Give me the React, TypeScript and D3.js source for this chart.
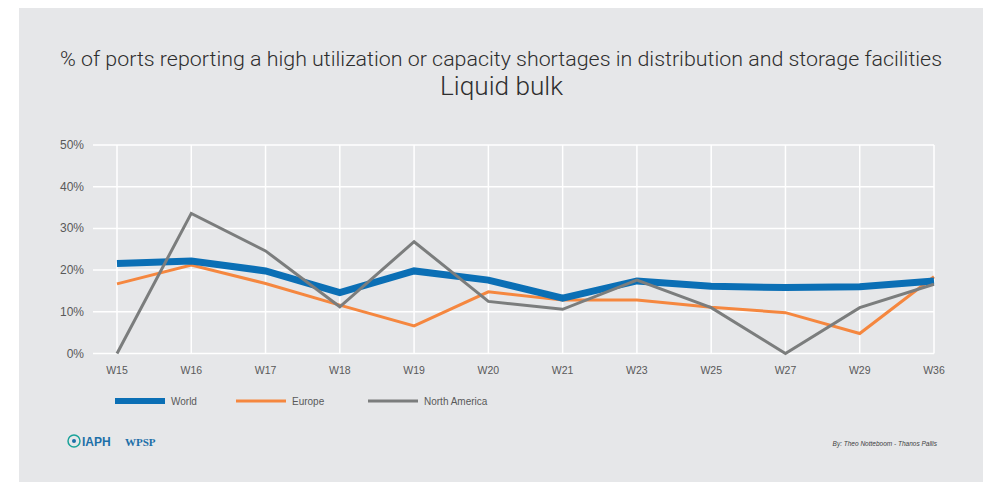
import React from "react";
import * as d3 from "d3";

const categories = ["W15", "W16", "W17", "W18", "W19", "W20", "W21", "W23", "W25", "W27", "W29", "W36"];
const world = [21.6, 22.2, 19.8, 14.6, 19.8, 17.6, 13.3, 17.4, 16.1, 15.8, 16.0, 17.4];
const europe = [16.7, 21.2, 16.8, 11.6, 6.6, 14.8, 12.8, 12.8, 11.1, 9.8, 4.8, 18.4];
const northAmerica = [0, 33.6, 24.6, 11.2, 26.8, 12.5, 10.6, 17.6, 11.0, 0, 11.0, 16.6];
const yTicks = [0, 10, 20, 30, 40, 50];

const seriesList = [
  { name: "World", values: world, color: "#0b6fb5", width: 7 },
  { name: "Europe", values: europe, color: "#f5873f", width: 3 },
  { name: "North America", values: northAmerica, color: "#7b7d7d", width: 3 },
];
const drawOrder = [1, 0, 2];

const W = 989;
const H = 483;
const FONT = "'Liberation Sans', Arial, sans-serif";
const TITLE_FONT = "Roboto, 'Liberation Sans', sans-serif";

export default function App() {
  const x = d3.scalePoint<string>().domain(categories).range([117, 934]);
  const y = d3.scaleLinear().domain([0, 50]).range([353.5, 145]);
  const line = d3
    .line<number>()
    .x((_, i) => x(categories[i]) as number)
    .y((d) => y(d))
    .curve(d3.curveLinear);

  const legendX = [115, 236, 368];

  return (
    <svg
      width={W}
      height={H}
      style={{ position: "absolute", left: 0, top: 0, fontFamily: FONT }}
    >
      <rect x={0} y={0} width={W} height={H} fill="#ffffff" />
      <rect x={19} y={8} width={964} height={474} fill="#e6e7e9" />

      <text
        x={60}
        y={66}
        fontSize={20}
        fill="#2e2e2e"
        fontWeight={300}
        fontFamily={TITLE_FONT}
        textLength={882}
        lengthAdjust="spacingAndGlyphs"
      >
        % of ports reporting a high utilization or capacity shortages in distribution and storage facilities
      </text>
      <text
        x={440}
        y={95}
        fontSize={25}
        fill="#2e2e2e"
        fontWeight={300}
        fontFamily={TITLE_FONT}
        textLength={123}
        lengthAdjust="spacingAndGlyphs"
      >
        Liquid bulk
      </text>

      {yTicks.map((t) => (
        <g key={t}>
          <line x1={93} x2={934} y1={y(t)} y2={y(t)} stroke="#ffffff" strokeWidth={1.5} />
          <text x={84} y={y(t) + 4} textAnchor="end" fontSize={12} fill="#595959">
            {t}%
          </text>
        </g>
      ))}
      {categories.map((c) => (
        <g key={c}>
          <line x1={x(c)} x2={x(c)} y1={145} y2={353.5} stroke="#ffffff" strokeWidth={1.5} />
          <text x={x(c)} y={374} textAnchor="middle" fontSize={10.5} fill="#595959">
            {c}
          </text>
        </g>
      ))}

      {drawOrder.map((i) => {
        const s = seriesList[i];
        return (
          <path
            key={s.name}
            d={line(s.values) || ""}
            fill="none"
            stroke={s.color}
            strokeWidth={s.width}
            strokeLinejoin="miter"
          />
        );
      })}

      {seriesList.map((s, i) => (
        <g key={s.name}>
          <line
            x1={legendX[i]}
            x2={legendX[i] + 50}
            y1={401}
            y2={401}
            stroke={s.color}
            strokeWidth={s.width === 7 ? 6 : 3}
          />
          <text x={legendX[i] + 56} y={405} fontSize={10} fill="#595959">
            {s.name}
          </text>
        </g>
      ))}

      <g>
        <circle cx={74} cy={441} r={6} fill="none" stroke="#1aa39a" strokeWidth={1.5} />
        <circle cx={74} cy={441} r={2} fill="#1d6fa8" />
        <text x={82} y={446} fontSize={12} fontWeight="bold" fill="#1d6fa8">
          IAPH
        </text>
        <text x={125} y={446} fontSize={11} fontWeight="bold" fill="#1d6fa8" fontFamily="'Liberation Serif', serif">
          WPSP
        </text>
      </g>

      <text x={937} y={446} textAnchor="end" fontSize={6.5} fontStyle="italic" fill="#404040">
        By: Theo Notteboom - Thanos Pallis
      </text>
    </svg>
  );
}
